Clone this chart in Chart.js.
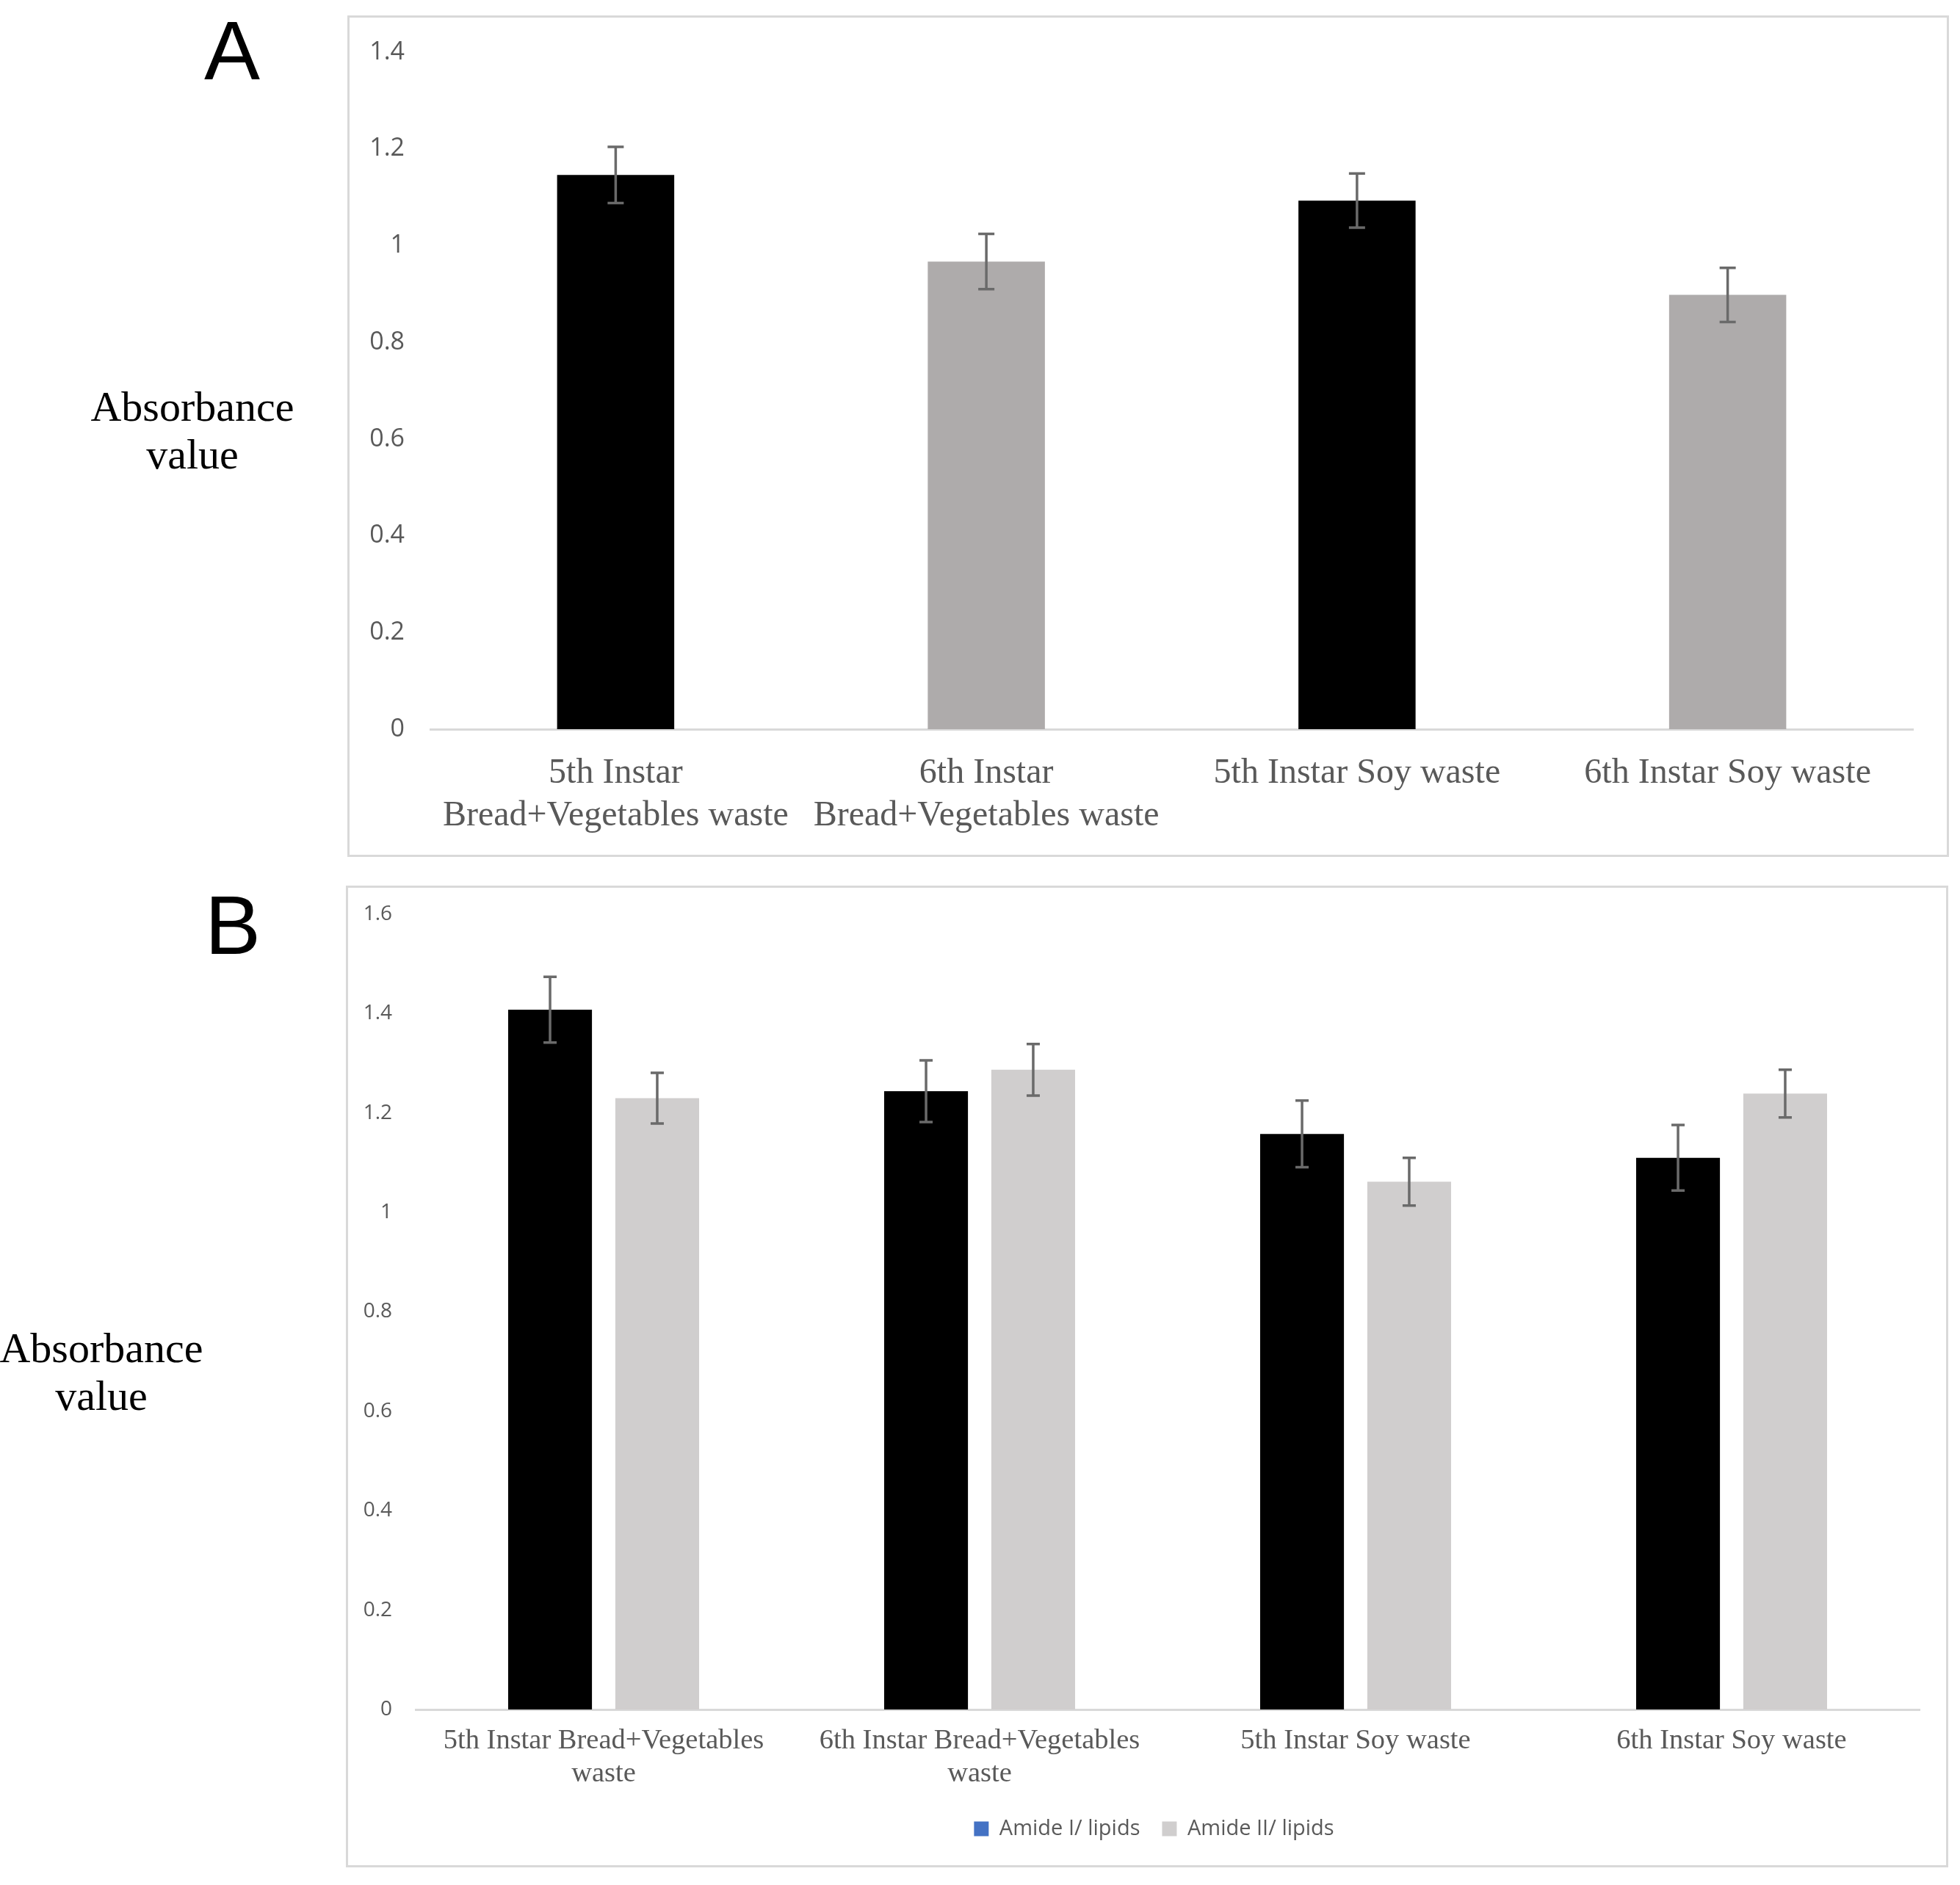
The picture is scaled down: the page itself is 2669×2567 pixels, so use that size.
<!DOCTYPE html>
<html>
<head>
<meta charset="utf-8">
<script src="https://cdn.jsdelivr.net/npm/chart.js@4.4.0/dist/chart.umd.min.js"></script>
<style>
  body { margin: 0; width: 2669px; height: 2567px; background: #fff; position: relative; overflow: hidden; }
  canvas { position: absolute; }
  .box { position: absolute; border: 3px solid #d9d9d9; box-sizing: border-box; pointer-events: none; }
  .letter { position: absolute; font-family: "Liberation Sans", Arial, sans-serif; font-size: 114px; line-height: 114px; width: 200px; text-align: center; color: #000; }
  .ylab { position: absolute; font-family: "Liberation Serif", "Times New Roman", serif; font-size: 58px; line-height: 65px; width: 400px; text-align: center; color: #000; }
</style>
</head>
<body>
<div class="letter" style="left:216px; top:12px;">A</div>
<div class="letter" style="left:217px; top:1203px;">B</div>
<div class="ylab" style="left:62px; top:521px;">Absorbance<br>value</div>
<div class="ylab" style="left:-62px; top:1803px;">Absorbance<br>value</div>

<canvas id="grafA" width="2181" height="1146" style="left:473px; top:21px;"></canvas>
<div class="box" style="left:473px; top:21px; width:2181px; height:1146px;"></div>

<canvas id="grafB" width="2182" height="1337" style="left:471px; top:1206px;"></canvas>
<div class="box" style="left:471px; top:1206px; width:2182px; height:1337px;"></div>

<script>
  // Painel A
  const categoriasA = [
    ['5th Instar', 'Bread+Vegetables waste'],
    ['6th Instar', 'Bread+Vegetables waste'],
    '5th Instar Soy waste',
    '6th Instar Soy waste'
  ];
  const valoresA = [1.146, 0.967, 1.093, 0.898];
  const errosA = [0.058, 0.057, 0.056, 0.056];
  const coresA = ['#000000', '#aeabab', '#000000', '#aeabab'];
  const ticksA = ['0', '0.2', '0.4', '0.6', '0.8', '1', '1.2', '1.4'];

  // Painel B
  const categoriasB = [
    ['5th Instar Bread+Vegetables', 'waste'],
    ['6th Instar Bread+Vegetables', 'waste'],
    '5th Instar Soy waste',
    '6th Instar Soy waste'
  ];
  const serieB1 = [1.408, 1.244, 1.158, 1.110];
  const errosB1 = [0.066, 0.062, 0.067, 0.066];
  const serieB2 = [1.230, 1.287, 1.062, 1.239];
  const errosB2 = [0.051, 0.052, 0.048, 0.048];
  const nomesB = ['Amide I/ lipids', 'Amide II/ lipids'];
  const coresB = ['#000000', '#d0cece'];
  const coresLegendaB = ['#4472c4', '#d0cece'];
  const ticksB = ['0', '0.2', '0.4', '0.6', '0.8', '1', '1.2', '1.4', '1.6'];

  // Plugin para desenhar as barras de erro
  const barrasDeErro = {
    id: 'barrasDeErro',
    afterDatasetsDraw(chart, args, opts) {
      const ctx = chart.ctx;
      const y = chart.scales.y;
      const cap = opts.cap || 9;
      chart.data.datasets.forEach((ds, i) => {
        const meta = chart.getDatasetMeta(i);
        meta.data.forEach((barra, j) => {
          const v = ds.data[j];
          const e = ds.erros[j];
          const topo = y.getPixelForValue(v + e);
          const base = y.getPixelForValue(v - e);
          ctx.save();
          ctx.strokeStyle = '#6a6a6a';
          ctx.lineWidth = 3.5;
          ctx.beginPath();
          ctx.moveTo(barra.x, topo);
          ctx.lineTo(barra.x, base);
          ctx.moveTo(barra.x - cap, topo);
          ctx.lineTo(barra.x + cap, topo);
          ctx.moveTo(barra.x - cap, base);
          ctx.lineTo(barra.x + cap, base);
          ctx.stroke();
          ctx.restore();
        });
      });
    }
  };

  // Empurra a legenda um pouco para a direita (como no original)
  const moverLegenda = {
    id: 'moverLegenda',
    afterLayout(chart, args, opts) {
      if (chart.legend && opts.dx) {
        chart.legend.left += opts.dx;
        chart.legend.right += opts.dx;
      }
    }
  };

  new Chart(document.getElementById('grafA'), {
    type: 'bar',
    data: {
      labels: categoriasA,
      datasets: [{
        data: valoresA,
        erros: errosA,
        backgroundColor: coresA,
        categoryPercentage: 1,
        barPercentage: 0.316
      }]
    },
    options: {
      responsive: false,
      animation: false,
      devicePixelRatio: 1,
      layout: { padding: { top: 50, right: 49, bottom: 0, left: 0 } },
      plugins: { legend: { display: false }, tooltip: { enabled: false }, barrasDeErro: { cap: 11 } },
      scales: {
        x: {
          grid: { display: false, drawTicks: true, tickLength: 32 },
          border: { color: '#d9d9d9', width: 3 },
          ticks: {
            font: { family: 'Liberation Serif', size: 48, lineHeight: 1.2 },
            color: '#595959',
            padding: 0,
            maxRotation: 0,
            autoSkip: false
          },
          afterFit(s) { s.height = 174; }
        },
        y: {
          min: 0,
          max: 1.4,
          grid: { display: false, drawTicks: true, tickLength: 35 },
          border: { display: false },
          ticks: {
            stepSize: 0.2,
            font: { family: 'Open Sans', size: 34 },
            color: '#595959',
            padding: 0,
            callback: (v, i) => ticksA[i]
          },
          afterFit(s) { s.width = 113; }
        }
      }
    },
    plugins: [barrasDeErro]
  });

  new Chart(document.getElementById('grafB'), {
    type: 'bar',
    data: {
      labels: categoriasB,
      datasets: [
        { label: nomesB[0], data: serieB1, erros: errosB1, backgroundColor: coresB[0], categoryPercentage: 0.57, barPercentage: 0.782 },
        { label: nomesB[1], data: serieB2, erros: errosB2, backgroundColor: coresB[1], categoryPercentage: 0.57, barPercentage: 0.782 }
      ]
    },
    options: {
      responsive: false,
      animation: false,
      devicePixelRatio: 1,
      layout: { padding: { top: 39, right: 39, bottom: 28, left: 0 } },
      plugins: {
        tooltip: { enabled: false },
        barrasDeErro: { cap: 9 },
        moverLegenda: { dx: 29 },
        legend: {
          position: 'bottom',
          labels: {
            font: { family: 'Open Sans', size: 29 },
            color: '#595959',
            boxWidth: 20,
            boxHeight: 20,
            padding: 30,
            generateLabels(chart) {
              const itens = Chart.defaults.plugins.legend.labels.generateLabels(chart);
              itens.forEach((it, i) => { it.fillStyle = coresLegendaB[i]; it.strokeStyle = coresLegendaB[i]; it.lineWidth = 0; });
              return itens;
            }
          }
        }
      },
      scales: {
        x: {
          grid: { display: false, drawTicks: true, tickLength: 21 },
          border: { color: '#d9d9d9', width: 3 },
          ticks: {
            font: { family: 'Liberation Serif', size: 38.5, lineHeight: 1.16 },
            color: '#595959',
            padding: 0,
            maxRotation: 0,
            autoSkip: false
          },
          afterFit(s) { s.height = 118; }
        },
        y: {
          min: 0,
          max: 1.6,
          grid: { display: false, drawTicks: true, tickLength: 32 },
          border: { display: false },
          ticks: {
            stepSize: 0.2,
            font: { family: 'Open Sans', size: 28 },
            color: '#595959',
            padding: 0,
            callback: (v, i) => ticksB[i]
          },
          afterFit(s) { s.width = 95; }
        }
      }
    },
    plugins: [barrasDeErro, moverLegenda]
  });
</script>
</body>
</html>
